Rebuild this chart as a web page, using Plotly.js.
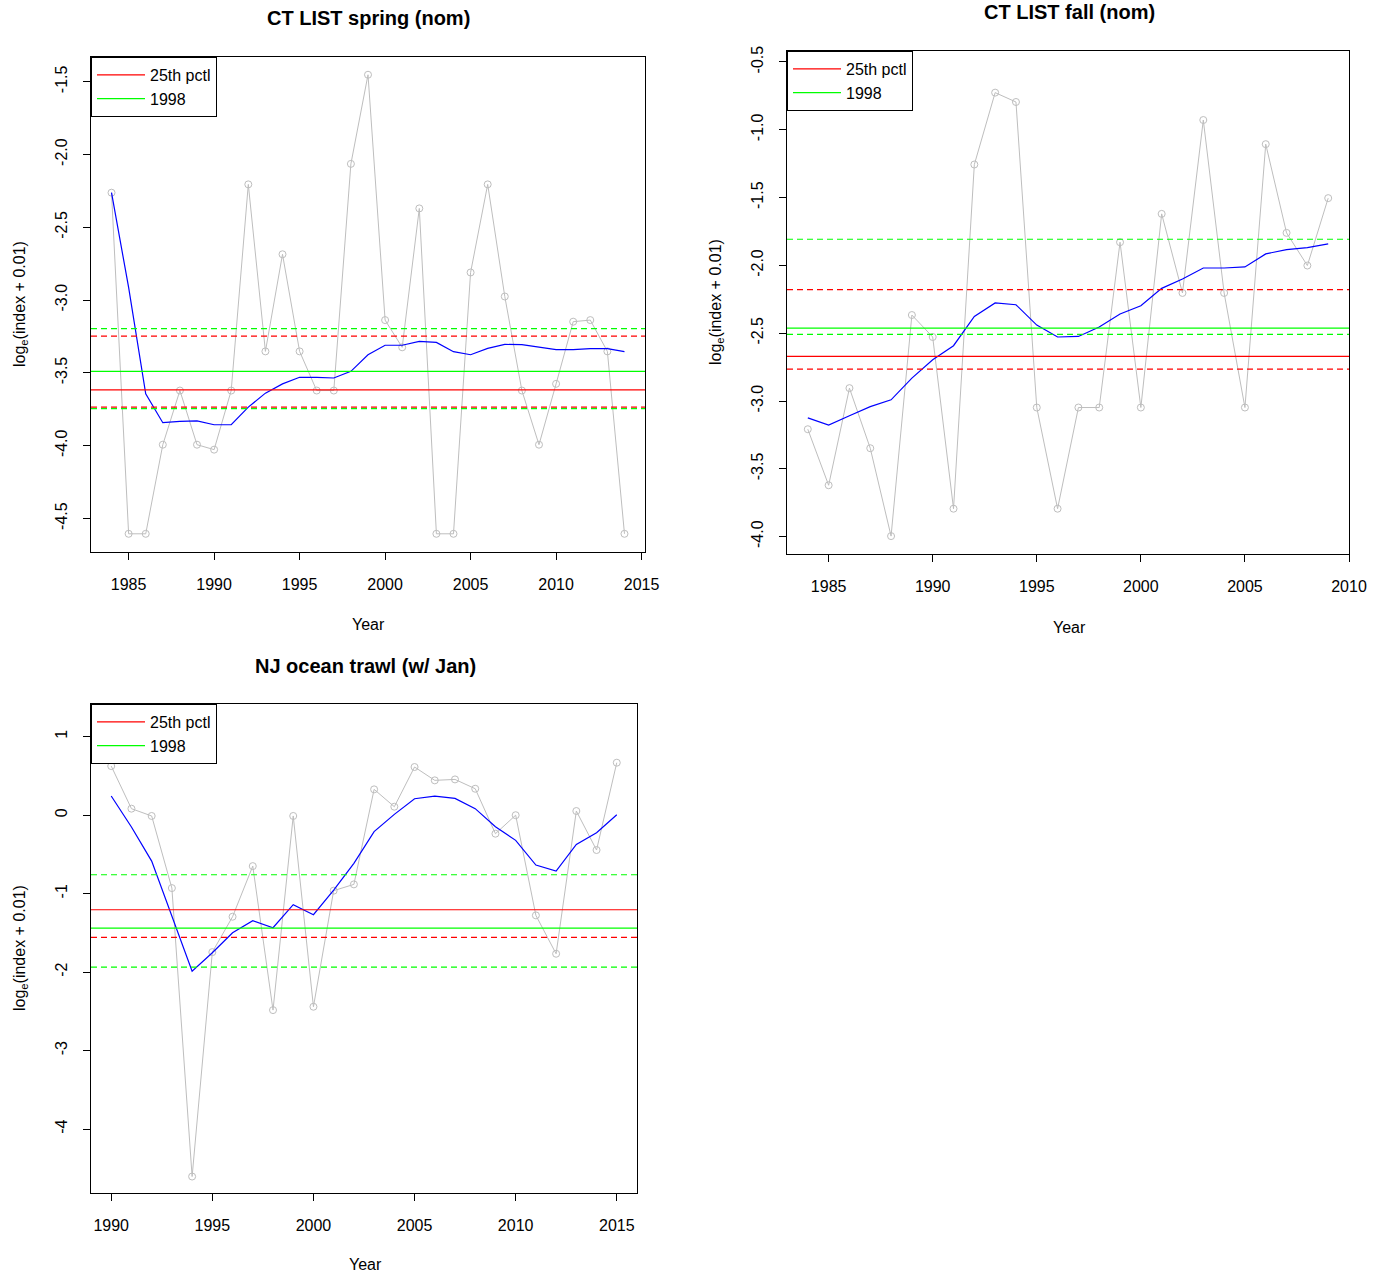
<!DOCTYPE html>
<html>
<head>
<meta charset="utf-8">
<script src="https://cdn.plot.ly/plotly-3.0.1.min.js"></script>
<style>html,body{margin:0;padding:0;background:#fff}#chart{width:1386px;height:1274px}</style>
</head>
<body>
<div id="chart"></div>
<script>
// ---------- data ----------
var springYears = [1984,1985,1986,1987,1988,1989,1990,1991,1992,1993,1994,1995,1996,1997,1998,1999,2000,2001,2002,2003,2004,2005,2006,2007,2008,2009,2010,2011,2012,2013,2014];
var springObs = [-2.262,-4.605,-4.605,-3.993,-3.621,-3.993,-4.027,-3.621,-2.205,-3.352,-2.685,-3.352,-3.621,-3.621,-2.064,-1.452,-3.137,-3.324,-2.370,-4.605,-4.605,-2.810,-2.205,-2.975,-3.621,-3.993,-3.575,-3.148,-3.137,-3.352,-4.605];
var springSmooth = [-2.262,-2.913,-3.644,-3.842,-3.833,-3.830,-3.856,-3.856,-3.735,-3.639,-3.575,-3.530,-3.530,-3.535,-3.489,-3.375,-3.310,-3.310,-3.283,-3.290,-3.354,-3.375,-3.331,-3.304,-3.306,-3.324,-3.340,-3.340,-3.333,-3.333,-3.354];
var springP25 = -3.617, springP25Band = [-3.247,-3.735];
var spring1998 = -3.489, spring1998Band = [-3.196,-3.745];

var fallYears = [1984,1985,1986,1987,1988,1989,1990,1991,1992,1993,1994,1995,1996,1997,1998,1999,2000,2001,2002,2003,2004,2005,2006,2007,2008,2009];
var fallObs = [-3.208,-3.621,-2.905,-3.348,-3.996,-2.366,-2.528,-3.794,-1.256,-0.726,-0.795,-3.048,-3.794,-3.048,-3.048,-1.829,-3.048,-1.620,-2.203,-0.928,-2.203,-3.048,-1.106,-1.760,-2.001,-1.504];
var fallSmooth = [-3.124,-3.178,-3.109,-3.041,-2.991,-2.831,-2.696,-2.592,-2.376,-2.277,-2.290,-2.440,-2.528,-2.524,-2.454,-2.358,-2.297,-2.169,-2.100,-2.019,-2.019,-2.011,-1.915,-1.883,-1.869,-1.841];
var fallP25 = -2.671, fallP25Band = [-2.179,-2.765];
var fall1998 = -2.462, fall1998Band = [-1.807,-2.509];

var njYears = [1990,1991,1992,1993,1994,1995,1996,1997,1998,1999,2000,2001,2002,2003,2004,2005,2006,2007,2008,2009,2010,2011,2012,2013,2014,2015];
var njObs = [0.626,0.083,-0.010,-0.929,-4.605,-1.745,-1.294,-0.649,-2.484,-0.010,-2.441,-0.962,-0.882,0.329,0.108,0.614,0.444,0.456,0.337,-0.236,0.000,-1.277,-1.766,0.053,-0.444,0.669];
var njSmooth = [0.244,-0.150,-0.585,-1.286,-1.987,-1.753,-1.498,-1.345,-1.434,-1.141,-1.268,-0.954,-0.614,-0.210,0.010,0.210,0.244,0.214,0.083,-0.147,-0.321,-0.636,-0.712,-0.372,-0.223,0.006];
var njP25 = -1.205, njP25Band = [-1.558];
var nj1998 = -1.439, nj1998Band = [-0.759,-1.936];

var titles = ["CT LIST spring (nom)", "CT LIST fall (nom)", "NJ ocean trawl (w/ Jan)"];
var legendNames = ["25th pctl", "1998"];

var springXTicks = [1985,1990,1995,2000,2005,2010,2015];
var fallXTicks = [1985,1990,1995,2000,2005,2010];
var njXTicks = [1990,1995,2000,2005,2010,2015];
var springYTicks = [-1.5,-2.0,-2.5,-3.0,-3.5,-4.0,-4.5];
var springYText = ["-1.5","-2.0","-2.5","-3.0","-3.5","-4.0","-4.5"];
var fallYTicks = [-0.5,-1.0,-1.5,-2.0,-2.5,-3.0,-3.5,-4.0];
var fallYText = ["-0.5","-1.0","-1.5","-2.0","-2.5","-3.0","-3.5","-4.0"];
var njYTicks = [1,0,-1,-2,-3,-4];
var njYText = ["1","0","-1","-2","-3","-4"];

// ---------- styling ----------
var FONT = "Liberation Sans, Arial, Helvetica, sans-serif";
var GRAY = "#bebebe", BLUE = "#0000ff", RED = "#ff0000", GREEN = "#00ff00";
var W = 1386, H = 1274;

var traces = [];
function addPanel(years, obs, smooth, xa, ya, legendId) {
  traces.push({x: years, y: obs, xaxis: xa, yaxis: ya, type: "scatter", mode: "lines+markers",
    line: {color: GRAY, width: 1}, marker: {symbol: "circle-open", size: 7, color: GRAY, line: {width: 1, color: GRAY}},
    showlegend: false, hoverinfo: "x+y"});
  traces.push({x: years, y: smooth, xaxis: xa, yaxis: ya, type: "scatter", mode: "lines",
    line: {color: BLUE, width: 1.2}, showlegend: false});
  traces.push({x: [null], y: [null], xaxis: xa, yaxis: ya, type: "scatter", mode: "lines",
    name: legendNames[0], line: {color: RED, width: 1.2}, showlegend: true, legend: legendId});
  traces.push({x: [null], y: [null], xaxis: xa, yaxis: ya, type: "scatter", mode: "lines",
    name: legendNames[1], line: {color: GREEN, width: 1.2}, showlegend: true, legend: legendId});
}
addPanel(springYears, springObs, springSmooth, "x", "y", "legend");
addPanel(fallYears, fallObs, fallSmooth, "x2", "y2", "legend2");
addPanel(njYears, njObs, njSmooth, "x3", "y3", "legend3");

var shapes = [];
function hline(v, axis, color, dashed) {
  shapes.push({type: "line", xref: axis.x + " domain", yref: axis.y, x0: 0, x1: 1, y0: v, y1: v,
    line: {color: color, width: 1.2, dash: dashed ? "6px,4px" : "solid"}});
}
function addLines(axis, p25, p25Band, y98, y98Band) {
  p25Band.forEach(function (v) { hline(v, axis, RED, true); });
  y98Band.forEach(function (v) { hline(v, axis, GREEN, true); });
  hline(y98, axis, GREEN, false);
  hline(p25, axis, RED, false);
}
addLines({x: "x", y: "y"}, springP25, springP25Band, spring1998, spring1998Band);
addLines({x: "x2", y: "y2"}, fallP25, fallP25Band, fall1998, fall1998Band);
addLines({x: "x3", y: "y3"}, njP25, njP25Band, nj1998, nj1998Band);

function xAxis(domainPx, range, ticks, anchor) {
  return {anchor: anchor, domain: [domainPx[0] / W, domainPx[1] / W], range: range, tickvals: ticks,
    ticks: "outside", ticklen: 7, tickcolor: "#000", tickwidth: 1, ticklabelstandoff: 11,
    showline: true, mirror: true, linecolor: "#000", linewidth: 1, showgrid: false, zeroline: false,
    tickfont: {family: FONT, size: 16, color: "#000"}, fixedrange: true};
}
function yAxis(domainPx, range, ticks, text, anchor) {
  return {anchor: anchor, domain: [1 - domainPx[1] / H, 1 - domainPx[0] / H], range: range, tickvals: ticks, ticktext: text,
    tickangle: -90, ticks: "outside", ticklen: 7, tickcolor: "#000", tickwidth: 1, ticklabelstandoff: 10,
    showline: true, mirror: true, linecolor: "#000", linewidth: 1, showgrid: false, zeroline: false,
    tickfont: {family: FONT, size: 16, color: "#000"}, fixedrange: true};
}

function legendAt(px, py) {
  return {x: px / W, y: 1 - py / H, xanchor: "left", yanchor: "top", bordercolor: "#000", borderwidth: 1,
    bgcolor: "#fff", font: {family: FONT, size: 16, color: "#000"}, tracegroupgap: 0, itemwidth: 48,
    entrywidth: 118};
}

function ann(text, px, py, opts) {
  var a = {text: text, xref: "paper", yref: "paper", x: px / W, y: 1 - py / H, showarrow: false,
    xanchor: "center", yanchor: "middle", font: {family: FONT, size: 16, color: "#000"}};
  for (var k in opts) a[k] = opts[k];
  return a;
}
var ylab = "log<sub>e</sub>(index + 0.01)";
var TF = {family: FONT, size: 20, color: "#000"};
var annotations = [
  ann("<b>" + titles[0] + "</b>", 369, 18, {font: TF}),
  ann("<b>" + titles[1] + "</b>", 1069, 12, {font: TF}),
  ann("<b>" + titles[2] + "</b>", 365, 666, {font: TF}),
  ann("Year", 369, 624, {}),
  ann("Year", 1069, 627, {}),
  ann("Year", 365, 1264, {}),
  ann(ylab, 20, 304, {textangle: -90}),
  ann(ylab, 716, 302, {textangle: -90}),
  ann(ylab, 20, 948, {textangle: -90})
];

var layout = {
  width: W, height: H, margin: {l: 0, r: 0, t: 0, b: 0},
  paper_bgcolor: "#fff", plot_bgcolor: "#fff",
  xaxis: xAxis([91, 645], [1982.8, 2015.2], springXTicks, "y"),
  yaxis: yAxis([57, 552], [-4.73, -1.33], springYTicks, springYText, "x"),
  xaxis2: xAxis([787, 1349], [1983, 2010], fallXTicks, "y2"),
  yaxis2: yAxis([51, 554], [-4.128, -0.419], fallYTicks, fallYText, "x2"),
  xaxis3: xAxis([91, 637], [1989, 2016], njXTicks, "y3"),
  yaxis3: yAxis([704, 1193], [-4.815, 1.417], njYTicks, njYText, "x3"),
  legend: legendAt(91, 57),
  legend2: legendAt(787, 51),
  legend3: legendAt(91, 704),
  shapes: shapes,
  annotations: annotations,
  showlegend: true
};

Plotly.newPlot("chart", traces, layout, {displayModeBar: false, staticPlot: true});
</script>
</body>
</html>
